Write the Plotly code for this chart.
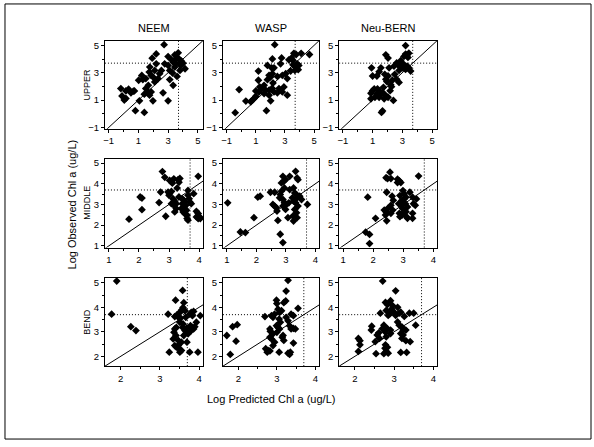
import plotly.graph_objects as go

# ---------------- data (log10 Chl a, ug/L) ----------------
models = ["NEEM", "WASP", "Neu-BERN"]
reaches = ["UPPER", "MIDDLE", "BEND"]
threshold = 3.7

upper_neem_pred = [2.73, 2.2, 1.93, 3.0, 3.45, 3.68, 3.57, 3.23, 3.75, 4.0, 3.9, 4.14, 3.8, 3.45, 3.11, 3.3, 3.0, 2.55, 2.43, 2.1,
                   1.98, 1.77, 1.73, 1.86, 1.5, 1.23, 1.02, 1.3, 1.67, 1.5, 1.64, 1.86, 1.75, 1.98, 1.4, 1.07, 0.8, 1.4, 0.66, 0.34,
                   0.16, -0.18, -0.1, 0.05, 0.16, 0.5, 0.73, 2.66, 3.0, 3.34, 3.11, 3.6, 3.8, 3.52, 3.9, 3.34, 2.77, 2.32, 2.1, 2.2]
upper_neem_obs = [5.05, 4.37, 4.06, 4.18, 4.3, 4.45, 4.06, 3.94, 4.0, 3.7, 3.58, 3.29, 3.17, 3.41, 3.17, 2.98, 3.53, 3.17, 2.93, 3.17,
                  2.69, 3.41, 3.05, 2.8, 2.57, 2.8, 2.45, 2.5, 2.08, 1.84, 1.6, 1.6, 1.36, 0.95, 1.43, 0.95, 0.23, 0.1, 1.65, 1.8,
                  1.67, 1.84, 1.3, 1.0, 1.12, 1.53, 1.67, 1.53, 0.95, 2.08, 2.5, 2.73, 3.58, 3.7, 3.84, 3.77, 3.65, 2.57, 2.33, 3.65]

upper_wasp_pred = [2.3, 3.61, 3.77, 3.45, 3.27, 3.55, 4.11, 4.68, 2.77, 2.14, 2.25, 2.09, 1.18, 3.55, 3.73, 3.84, 3.95, 3.68, 3.91, 3.39,
                   3.05, 2.82, 3.16, 2.48, 2.02, 1.91, 2.14, 1.8, 1.18, 1.27, 1.57, 1.41, 1.68, 1.91, 2.14, 2.25, 2.59, 2.82, 2.93, 3.16,
                   2.48, 1.0, 1.23, 1.0, 0.89, 0.77, 0.66, 0.32, -0.14, -0.41, 1.73, 2.02, 2.18, 1.57, 1.91, 2.7, 1.8]
upper_wasp_obs = [5.05, 4.42, 4.33, 4.08, 3.94, 3.89, 4.42, 4.33, 4.08, 4.01, 3.36, 3.36, 3.12, 3.58, 3.41, 3.65, 3.53, 3.17, 3.22, 3.12,
                  2.93, 2.81, 2.57, 2.73, 2.69, 2.81, 2.93, 2.49, 2.45, 1.96, 2.08, 1.84, 1.72, 1.72, 1.84, 1.6, 1.84, 1.6, 1.96, 1.36,
                  1.53, 1.67, 1.6, 1.29, 1.12, 1.0, 0.88, 0.93, 1.77, 0.08, 0.23, 0.95, 2.25, 1.48, 1.36, 3.65, 3.53]

upper_bern_pred = [3.22, 1.89, 2.04, 3.22, 3.33, 3.44, 3.11, 3.38, 2.89, 2.62, 3.07, 2.44, 2.73, 3.0, 3.33, 3.22, 3.44, 3.56, 2.78, 0.93,
                   1.56, 2.11, 1.44, 1.0, 1.29, 1.82, 2.04, 1.89, 1.96, 2.49, 2.33, 2.62, 2.78, 2.22, 1.73, 1.33, 1.0, 1.11, 0.89, 0.89,
                   1.16, 1.44, 1.56, 1.67, 1.89, 1.78, 2.04, 2.4, 1.67, 1.6, 1.44, 1.29, 2.18, 2.27]
upper_bern_obs = [4.98, 4.31, 4.07, 4.36, 4.31, 4.43, 4.19, 4.12, 3.88, 3.71, 3.64, 3.48, 3.55, 3.36, 3.48, 3.24, 3.36, 3.12, 3.17, 3.36,
                  3.36, 3.36, 3.07, 2.76, 2.76, 2.88, 2.76, 2.52, 2.36, 2.88, 2.45, 2.52, 2.29, 2.12, 1.93, 1.81, 1.69, 1.81, 1.5, 1.1,
                  1.21, 1.69, 1.4, 1.57, 1.33, 1.1, 1.21, 0.98, 0.21, 0.1, 1.21, 1.45, 1.69, 1.98]

middle_neem_pred = [1.67, 2.04, 2.1, 2.1, 2.67, 2.72, 2.78, 2.86, 2.89, 3.02, 3.08, 3.16, 3.11, 3.3, 3.33, 3.36, 3.27, 2.97, 3.02, 3.08,
                    3.0, 3.13, 3.19, 3.08, 3.16, 3.24, 3.19, 3.44, 3.49, 3.52, 3.44, 3.56, 3.49, 3.41, 3.58, 3.47, 3.52, 3.6, 3.63, 3.67,
                    3.69, 3.63, 3.63, 3.6, 3.82, 3.97, 3.91, 3.97, 4.02, 3.91, 4.04, 3.97, 3.33, 3.24, 3.74]
middle_neem_obs = [2.29, 3.36, 3.31, 2.75, 3.09, 3.6, 4.59, 4.31, 2.43, 4.16, 4.11, 4.24, 4.03, 4.2, 4.07, 4.26, 3.79, 3.6, 3.52, 3.63,
                   3.44, 3.28, 3.15, 3.04, 2.96, 2.8, 2.64, 3.28, 3.2, 3.12, 3.04, 2.96, 2.88, 2.8, 2.72, 2.64, 2.56, 2.48, 3.44, 3.28,
                   3.12, 3.68, 2.24, 2.32, 3.52, 4.36, 2.67, 2.56, 2.4, 2.4, 2.32, 2.32, 3.36, 3.04, 3.04]

middle_wasp_pred = [1.03, 1.46, 1.63, 1.92, 2.05, 2.13, 2.48, 2.62, 2.56, 2.62, 2.68, 2.7, 2.73, 2.81, 2.9, 2.85, 2.9, 2.93, 2.99, 2.95,
                    2.85, 2.81, 2.9, 2.95, 2.9, 2.99, 3.07, 3.13, 3.26, 3.3, 3.36, 3.22, 3.26, 3.33, 3.38, 3.41, 3.3, 3.36, 3.24, 3.38,
                    3.26, 3.33, 3.38, 3.41, 3.47, 3.53, 3.73, 3.1, 3.02, 2.79, 3.13]
middle_wasp_obs = [3.08, 1.67, 1.64, 2.36, 3.35, 3.4, 3.59, 3.59, 3.0, 2.92, 2.84, 2.68, 2.23, 1.56, 1.16, 4.04, 4.36, 4.12, 4.2, 3.8,
                   3.64, 3.48, 3.24, 3.08, 2.92, 2.76, 2.36, 4.36, 3.8, 3.56, 3.48, 3.32, 3.16, 3.08, 3.32, 2.92, 2.76, 2.6, 2.44, 2.36,
                   2.2, 4.6, 4.28, 4.2, 3.4, 3.24, 3.0, 3.08, 3.0, 3.32, 3.72]

middle_bern_pred = [1.82, 1.75, 1.88, 1.88, 2.08, 2.43, 2.48, 2.56, 2.59, 2.45, 2.37, 2.43, 2.48, 2.41, 2.45, 2.63, 2.67, 2.59, 2.65, 2.59,
                    2.81, 2.87, 2.92, 2.81, 2.89, 2.96, 2.85, 2.92, 2.98, 2.87, 2.96, 2.89, 2.99, 3.03, 3.09, 3.03, 3.07, 3.14, 3.09, 3.11,
                    3.14, 2.99, 3.22, 3.31, 3.34, 3.31, 3.31, 3.44, 3.51, 3.4]
middle_bern_obs = [3.35, 1.66, 1.55, 1.11, 2.33, 4.29, 4.25, 4.56, 4.25, 3.59, 2.73, 2.65, 2.8, 2.49, 2.21, 3.4, 3.2, 2.96, 2.73, 2.57,
                   4.22, 4.14, 4.06, 4.06, 3.43, 3.2, 3.04, 2.96, 2.8, 2.57, 2.49, 2.41, 3.67, 3.51, 3.35, 3.27, 3.04, 2.88, 2.65, 2.41,
                   2.33, 2.57, 3.59, 3.35, 3.04, 2.57, 2.33, 3.27, 4.37, 2.96]

bend_neem_pred = [1.9, 1.77, 2.26, 2.39, 3.21, 3.24, 3.4, 3.58, 3.61, 3.38, 3.44, 3.51, 3.55, 3.59, 3.64, 3.47, 3.53, 3.38, 3.36, 3.42,
                  3.41, 3.34, 3.47, 3.38, 3.42, 3.49, 3.55, 3.51, 3.47, 3.55, 3.61, 3.64, 3.59, 3.51, 3.58, 3.69, 3.72, 3.76, 3.8, 3.86,
                  3.83, 3.78, 3.83, 3.86, 3.8, 3.89, 3.93, 4.03, 3.76, 3.97, 3.66, 3.69]
bend_neem_obs = [5.07, 3.72, 3.21, 3.05, 3.72, 2.17, 4.29, 4.69, 4.19, 3.62, 3.7, 3.79, 3.88, 3.99, 3.86, 3.59, 3.56, 3.12, 2.98, 3.18,
                 2.85, 2.71, 2.65, 2.44, 2.38, 2.31, 2.24, 2.17, 2.44, 2.58, 2.85, 3.05, 3.32, 3.39, 3.18, 2.58, 2.92, 3.72, 3.79, 3.83,
                 3.66, 3.25, 3.18, 3.12, 3.05, 3.21, 3.39, 3.66, 2.17, 2.17, 3.59, 3.16]

bend_wasp_pred = [1.7, 1.79, 1.85, 1.97, 1.94, 2.69, 2.82, 2.83, 2.71, 2.77, 2.82, 2.75, 2.86, 2.9, 2.94, 2.86, 2.9, 2.94, 2.99, 3.0,
                  3.03, 3.07, 3.12, 2.99, 3.03, 3.07, 3.0, 3.09, 3.06, 3.06, 3.14, 3.18, 3.18, 3.23, 3.16, 3.24, 3.29, 3.24, 3.29, 3.33,
                  3.29, 3.33, 3.35, 3.37, 3.43, 3.48, 3.37, 3.43, 3.43, 3.55, 2.82, 2.9]
bend_wasp_obs = [2.85, 2.08, 3.21, 3.29, 2.62, 3.62, 3.12, 3.02, 2.31, 2.24, 2.22, 2.17, 2.71, 2.44, 2.58, 3.66, 3.59, 3.72, 4.29, 4.15,
                 3.92, 3.79, 3.86, 3.25, 3.18, 3.12, 2.98, 3.39, 3.52, 2.17, 2.78, 2.65, 4.19, 4.26, 2.85, 4.66, 5.1, 3.59, 3.45, 3.25,
                 2.13, 2.08, 2.17, 3.12, 3.14, 3.12, 3.72, 3.66, 2.54, 3.96, 2.78, 2.92]

bend_bern_pred = [2.09, 2.13, 2.13, 2.09, 2.43, 2.42, 2.54, 2.61, 2.57, 2.52, 2.63, 2.65, 2.71, 2.74, 2.7, 2.77, 2.77, 2.8, 2.83, 2.78,
                  2.85, 2.74, 2.78, 2.83, 2.8, 2.85, 2.89, 2.91, 2.94, 2.96, 3.0, 3.04, 2.83, 2.91, 2.8, 2.91, 3.04, 3.09, 3.13, 3.17,
                  3.09, 3.13, 3.2, 3.23, 3.17, 3.17, 3.32, 3.23, 3.2, 3.3, 3.41, 3.3, 3.39, 3.5, 3.55, 3.26]
bend_bern_obs = [2.73, 2.64, 2.47, 2.2, 3.23, 3.07, 2.11, 2.96, 2.87, 2.6, 2.73, 3.76, 5.07, 3.27, 3.13, 3.0, 2.33, 2.2, 2.37, 2.47,
                 2.13, 2.11, 4.2, 4.11, 3.87, 3.67, 3.73, 4.27, 3.93, 4.07, 3.8, 3.67, 3.13, 3.07, 2.8, 2.93, 4.67, 4.0, 3.76, 3.8,
                 3.4, 3.27, 3.2, 3.07, 2.93, 2.16, 2.16, 2.87, 2.73, 3.07, 2.6, 2.64, 3.76, 3.76, 3.27, 3.63]

panels = [
    [(upper_neem_pred, upper_neem_obs), (upper_wasp_pred, upper_wasp_obs), (upper_bern_pred, upper_bern_obs)],
    [(middle_neem_pred, middle_neem_obs), (middle_wasp_pred, middle_wasp_obs), (middle_bern_pred, middle_bern_obs)],
    [(bend_neem_pred, bend_neem_obs), (bend_wasp_pred, bend_wasp_obs), (bend_bern_pred, bend_bern_obs)],
]

# axis settings per row
row_x_ranges = [[-1.25, 5.35], [0.87, 4.13], [1.6, 4.1]]
row_y_ranges = [[-1.1, 5.35], [0.92, 5.22], [1.6, 5.2]]
row_tick0 = [-1, 1, 1]
row_dtick = [2, 1, 1]
row_minor = [1, 0.5, 0.5]

# ---------------- layout geometry (pixels of 594x447 canvas) ----------------
W, H = 594, 447
col_px = [(103.3, 201.7), (221.7, 318.3), (338.3, 436.7)]
row_px = [(40, 129.3), (159.3, 249.3), (280, 369.3)]

FONT = "Arial, 'Liberation Sans', Helvetica, sans-serif"
DOT = "1px,2px"

fig = go.Figure()
layout = {}
for r in range(3):
    for c in range(3):
        k = r * 3 + c + 1
        xa = "x" if k == 1 else f"x{k}"
        ya = "y" if k == 1 else f"y{k}"
        xs, ys = panels[r][c]
        fig.add_trace(go.Scatter(
            x=xs, y=ys, mode="markers", xaxis=xa, yaxis=ya,
            marker=dict(symbol="diamond", size=6, color="black", line=dict(width=0)),
            showlegend=False, hoverinfo="x+y"))
        lo = min(row_x_ranges[r][0], row_y_ranges[r][0])
        hi = max(row_x_ranges[r][1], row_y_ranges[r][1])
        fig.add_trace(go.Scatter(
            x=[lo, hi], y=[lo, hi], mode="lines", xaxis=xa, yaxis=ya,
            line=dict(color="black", width=1), showlegend=False, hoverinfo="skip"))
        fig.add_shape(type="line", xref=xa, yref=f"{ya} domain", x0=threshold, x1=threshold, y0=0, y1=1,
                      line=dict(color="black", width=1, dash=DOT))
        fig.add_shape(type="line", xref=f"{xa} domain", yref=ya, x0=0, x1=1, y0=threshold, y1=threshold,
                      line=dict(color="black", width=1, dash=DOT))

        x0p, x1p = col_px[c]
        y0p, y1p = row_px[r]
        common = dict(showline=True, mirror=True, linecolor="black", linewidth=1,
                      ticks="outside", ticklen=3, tickwidth=1, tickcolor="black",
                      showgrid=False, zeroline=False,
                      tickfont=dict(family=FONT, size=9.5, color="black"),
                      tickmode="linear", tick0=row_tick0[r], dtick=row_dtick[r],
                      minor=dict(ticks="outside", ticklen=2, tickcolor="black", dtick=row_minor[r],
                                 tick0=row_tick0[r], showgrid=False))
        layout["xaxis" if k == 1 else f"xaxis{k}"] = dict(
            common, domain=[x0p / W, x1p / W], range=row_x_ranges[r], anchor=ya)
        layout["yaxis" if k == 1 else f"yaxis{k}"] = dict(
            common, domain=[1 - y1p / H, 1 - y0p / H], range=row_y_ranges[r], anchor=xa)

annotations = []
for c, name in enumerate(models):
    cx = (col_px[c][0] + col_px[c][1]) / 2
    annotations.append(dict(text=name, x=cx / W, y=1 - 27 / H, xref="paper", yref="paper",
                            showarrow=False, font=dict(family=FONT, size=11, color="black"),
                            xanchor="center", yanchor="middle"))
for r, name in enumerate(reaches):
    cy = (row_px[r][0] + row_px[r][1]) / 2
    annotations.append(dict(text=name, x=85 / W, y=1 - cy / H, xref="paper", yref="paper",
                            showarrow=False, textangle=-90, font=dict(family=FONT, size=9, color="black"),
                            xanchor="center", yanchor="middle"))
annotations.append(dict(text="Log Observed Chl a (ug/L)", x=70 / W, y=1 - 206 / H, xref="paper", yref="paper",
                        showarrow=False, textangle=-90, font=dict(family=FONT, size=11, color="black"),
                        xanchor="center", yanchor="middle"))
annotations.append(dict(text="Log Predicted Chl a (ug/L)", x=270 / W, y=1 - 403 / H, xref="paper", yref="paper",
                        showarrow=False, font=dict(family=FONT, size=11, color="black"),
                        xanchor="center", yanchor="middle"))

fig.add_shape(type="rect", xref="paper", yref="paper", x0=3 / W, x1=591 / W, y0=1 - 443 / H, y1=1 - 3 / H,
              line=dict(color="black", width=1))

fig.update_layout(
    width=W, height=H, margin=dict(l=0, r=0, t=0, b=0),
    paper_bgcolor="white", plot_bgcolor="white",
    annotations=annotations, showlegend=False,
    **layout)

fig.write_html("out.html", config={"displayModeBar": False},
               post_script="document.body.style.margin='0';document.body.style.overflow='hidden';")
